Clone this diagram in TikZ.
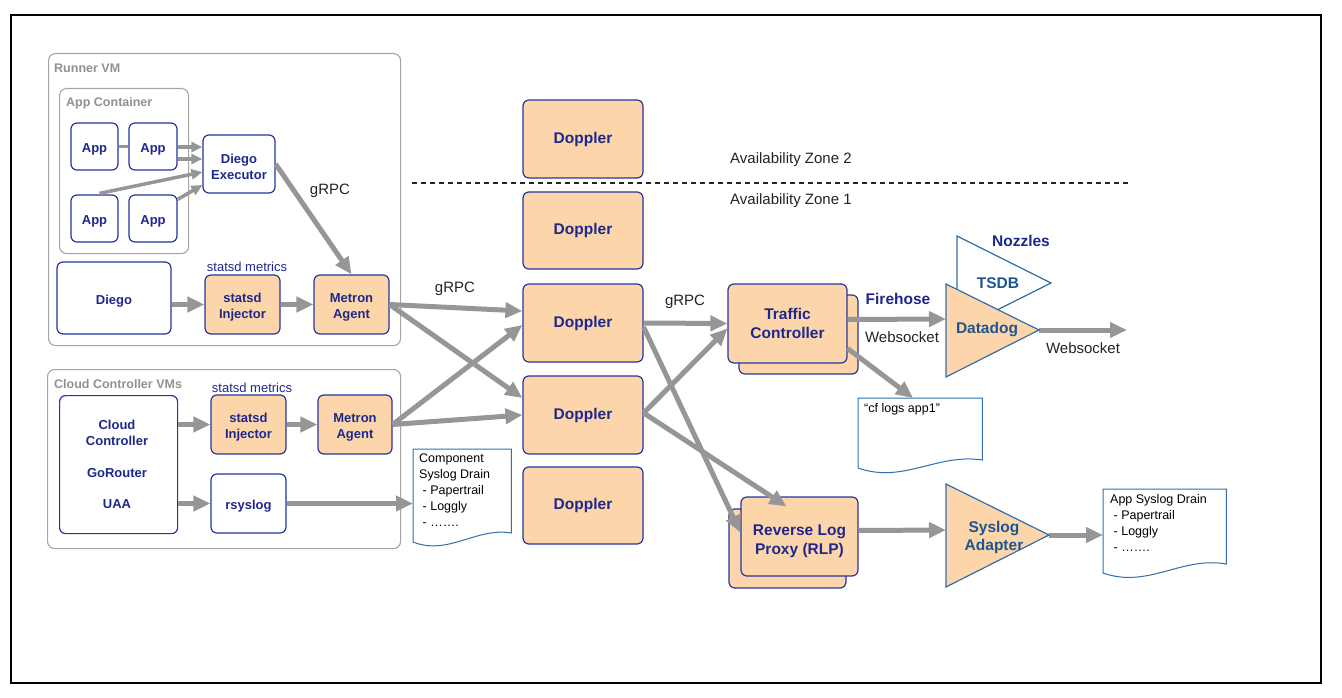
\documentclass[tikz,border=0pt]{standalone}
\usepackage{fontspec}
\setmainfont{Liberation Sans}
\usetikzlibrary{arrows.meta,calc}
\definecolor{peach}{RGB}{252,214,170}
\definecolor{navy}{RGB}{38,52,158}
\definecolor{navytext}{RGB}{30,40,140}
\definecolor{arrgray}{RGB}{150,150,150}
\definecolor{grpgray}{RGB}{165,165,165}
\definecolor{lblgray}{RGB}{145,145,145}
\definecolor{docblue}{RGB}{50,110,170}
\definecolor{tritxt}{RGB}{30,85,145}
\definecolor{txtdark}{RGB}{35,35,35}
\newcommand\mystrutA{\rule{0pt}{15.5pt}}
\newcommand\mystrutB{\rule{0pt}{19.5pt}}
\tikzset{
 grp/.style={draw=grpgray, line width=1.1pt, rounded corners=7pt, inner sep=0},
 grplabel/.style={anchor=west, text=lblgray, font=\fontsize{12.5}{14}\selectfont\bfseries, inner sep=0},
 sbox/.style={draw=navy, line width=1.2pt, rounded corners=6pt, text=navytext, font=\fontsize{13}{16}\selectfont\bfseries, align=center, inner sep=0},
 sboxw/.style={sbox, fill=white},
 sboxp/.style={sbox, fill=peach},
 bbox/.style={sboxp, font=\fontsize{15.5}{19}\selectfont\bfseries},
 garr/.style={draw=arrgray, line width=5pt, -{Triangle[length=17pt,width=15pt]}},
 sarr/.style={draw=arrgray, line width=3.5pt, -{Triangle[length=11pt,width=10pt]}},
 lbl/.style={text=txtdark, font=\fontsize{15}{18}\selectfont, inner sep=0},
 metr/.style={text=navytext, font=\fontsize{13}{15}\selectfont, inner sep=0},
 docline/.style={draw=docblue, line width=1pt, fill=white},
 doctext/.style={anchor=north west, align=left, font=\fontsize{12.5}{16}\selectfont, text=black, inner sep=0},
 tri/.style={draw=docblue, line width=1.2pt, line join=miter},
 tritext/.style={text=tritxt, font=\fontsize{15.5}{18}\selectfont\bfseries, align=center, inner sep=0},
 navylbl/.style={text=navytext, font=\fontsize{15.5}{18}\selectfont\bfseries, inner sep=0},
}
\begin{document}
\begin{tikzpicture}[x=1pt,y=-1pt]
\useasboundingbox (0,0) rectangle (1342,698);
\draw[line width=2pt] (11,15) rectangle (1321,683);

% groups
\node[grp, minimum width=352, minimum height=292, anchor=north west] (runner) at (48,53) {};
\node[grplabel] (runnerlbl) at (54,68) {Runner VM};
\node[grp, minimum width=129, minimum height=165, anchor=north west] (appc) at (59,88) {};
\node[grplabel] (appclbl) at (66,103) {App Container};
\node[grp, minimum width=353, minimum height=179, anchor=north west] (ccvm) at (47,369) {};
\node[grplabel] (ccvmlbl) at (54,384) {Cloud Controller VMs};

% runner boxes
\node[sboxw, minimum width=47, minimum height=47] (app1) at (94.5,146.5) {\mystrutA App};
\node[sboxw, minimum width=48, minimum height=47] (app2) at (153,146.5) {\mystrutA App};
\node[sboxw, minimum width=47, minimum height=47] (app3) at (94.5,218.5) {\mystrutA App};
\node[sboxw, minimum width=48, minimum height=47] (app4) at (153,218.5) {\mystrutA App};
\node[sboxw, minimum width=72, minimum height=58] (exec) at (239,164) {\mystrutA Diego\\Executor};
\node[sboxw, minimum width=114, minimum height=72] (diego) at (114,298) {\mystrutA Diego};
\node[sboxp, minimum width=75, minimum height=59] (injr) at (242.5,304.5) {\mystrutA statsd\\Injector};
\node[sboxp, minimum width=75, minimum height=59] (metr) at (351.5,304.5) {\mystrutA Metron\\Agent};
\node[metr] (smr) at (247,267) {statsd metrics};

% cloud controller boxes
\node[sboxw, minimum width=118, minimum height=138, anchor=north west] (cc) at (59,395) {};
\node[sbox, draw=none] (cct1) at (117,433) {Cloud\\Controller};
\node[sbox, draw=none] (cct2) at (117,473) {GoRouter};
\node[sbox, draw=none] (cct3) at (117,504) {UAA};
\node[sboxp, minimum width=75, minimum height=59] (injc) at (248.5,424.5) {\mystrutA statsd\\Injector};
\node[sboxp, minimum width=74, minimum height=59] (metc) at (355,424.5) {\mystrutA Metron\\Agent};
\node[sboxw, minimum width=75, minimum height=59] (rsys) at (248.5,503.5) {\mystrutA rsyslog};
\node[metr] (smc) at (252,388) {statsd metrics};

% dopplers
\node[bbox, minimum width=120, minimum height=78] (d1) at (583,139) {Doppler};
\node[bbox, minimum width=120, minimum height=77] (d2) at (583,230.5) {Doppler};
\node[bbox, minimum width=120, minimum height=78] (d3) at (583,323) {Doppler};
\node[bbox, minimum width=120, minimum height=78] (d4) at (583,415) {Doppler};
\node[bbox, minimum width=120, minimum height=77] (d5) at (583,505.5) {Doppler};

% zones
\draw[draw=txtdark, line width=1.2pt, dash pattern=on 5pt off 4pt] (412,183) -- (1130,183);
\node[lbl, anchor=west] (az2) at (730,160) {Availability Zone 2};
\node[lbl, anchor=west] (az1) at (730,201) {Availability Zone 1};

% traffic controller and RLP
\node[bbox, minimum width=119, minimum height=79] (tcback) at (798.5,334.5) {};
\node[bbox, minimum width=119, minimum height=79] (tc) at (787.5,323.5) {Traffic\\Controller};
\node[bbox, minimum width=117, minimum height=79] (rlpback) at (787.5,548.5) {};
\node[bbox, minimum width=117, minimum height=79] (rlp) at (799.5,536.5) {\mystrutB Reverse Log\\Proxy (RLP)};

% documents
\node[minimum width=98, minimum height=84, inner sep=0, anchor=north west] (comp) at (413,449) {};
\draw[docline] (comp.north west) -- (comp.north east) -- ($(comp.north east)+(0,84)$) .. controls +(-35,-6) and +(35,14) .. ($(comp.north west)+(0,93)$) -- cycle;
\node[doctext] (comptext) at ($(comp.north west)+(6,5)$) {Component\\Syslog Drain\\\ - Papertrail\\\ - Loggly\\\ - …….};

\node[minimum width=124, minimum height=62, inner sep=0, anchor=north west] (cf) at (858,398) {};
\draw[docline] (cf.north west) -- (cf.north east) -- ($(cf.north east)+(0,62)$) .. controls +(-45,-7) and +(45,16) .. ($(cf.north west)+(0,70)$) -- cycle;
\node[doctext] (cftext) at ($(cf.north west)+(6,5)$) {“cf logs app1”};

\node[minimum width=123, minimum height=75, inner sep=0, anchor=north west] (asd) at (1103,489) {};
\draw[docline] (asd.north west) -- (asd.north east) -- ($(asd.north east)+(0,75)$) .. controls +(-45,-8) and +(45,16) .. ($(asd.north west)+(0,84)$) -- cycle;
\node[doctext] (asdtext) at ($(asd.north west)+(7,5)$) {App Syslog Drain\\\ - Papertrail\\\ - Loggly\\\ - …….};

% triangle coordinates
\coordinate (ddT) at (946,284);
\coordinate (ddB) at (946,377);
\coordinate (ddA) at (1039,330);
\coordinate (ddIn) at (946,319);
\coordinate (outEnd) at (1127,330);
\coordinate (tsT) at (957,236);
\coordinate (tsB) at (957,330);
\coordinate (tsA) at (1051,283);
\coordinate (syT) at (946,484);
\coordinate (syB) at (946,587);
\coordinate (syA) at (1049,535);
\coordinate (syIn) at (946,530);

% arrows: runner
\draw[draw=arrgray, line width=3.5pt] (app1.east) -- (app2.west);
\draw[sarr] ($(app2.east)+(0,0.5)$) -- ($(exec.west)+(0,-17)$);
\draw[sarr] ($(app2.east)+(0,12.5)$) -- ($(exec.west)+(0,-5)$);
\draw[sarr] ($(app3.north)+(5,-1)$) -- ($(exec.west)+(0,8)$);
\draw[sarr] ($(app4.north east)+(0,5)$) -- ($(exec.west)+(0,21)$);
\draw[garr] (exec.east) -- (metr.north);
\node[lbl] (grpc1) at (330,191) {gRPC};
\draw[garr] (diego.east |- injr.west) -- (injr.west);
\draw[garr] (injr.east) -- (metr.west);

% arrows: cloud controller
\draw[garr] (cc.east |- injc.west) -- (injc.west);
\draw[garr] (cc.east |- rsys.west) -- (rsys.west);
\draw[garr] (injc.east) -- (metc.west);
\draw[garr] (rsys.east) -- (comp.west |- rsys.east);

% metron to doppler
\draw[garr] (metr.east) -- ($(d3.west)+(0,-12)$);
\draw[garr] (metr.east) -- ($(d4.west)+(0,-17)$);
\draw[garr] (metc.east) -- ($(d3.west)+(0,2)$);
\draw[garr] (metc.east) -- (d4.west);
\node[lbl] (grpc2) at (455,289) {gRPC};

% doppler to TC / RLP
\draw[garr] (d3.east) -- (tc.west);
\draw[garr] ($(d4.east)+(0,-2)$) -- ($(tc.west)+(0,5)$);
\draw[garr] ($(d3.east)+(0,4)$) -- ($(rlp.west)+(0,-4)$);
\draw[garr] ($(d4.east)+(0,-2)$) -- ($(rlp.north)+(-13,10)$);
\node[lbl] (grpc3) at (685,302) {gRPC};

% TC outputs
\draw[garr] ($(tc.east)+(0,-4)$) -- (ddIn);
\draw[garr] ($(tc.east)+(0,25)$) -- ($(cf.north west)+(55,0)$);
\node[navylbl] (firehose) at (898,299) {Firehose};
\node[lbl] (ws1) at (902,337) {Websocket};
\draw[garr] (ddA) -- (outEnd);
\node[lbl] (ws2) at (1083,348) {Websocket};

% RLP outputs
\draw[garr] ($(rlp.east)+(0,-6)$) -- (syIn);
\draw[garr] (syA) -- (asd.west |- syA);

% triangles
\draw[tri, fill=white] (tsT) -- (tsA) -- (tsB) -- cycle;
\draw[tri, fill=peach] (ddT) -- (ddA) -- (ddB) -- cycle;
\draw[tri, fill=peach] (syT) -- (syA) -- (syB) -- cycle;
\node[tritext] (tsdb) at (998,283) {TSDB};
\node[tritext] (dd) at (987,330) {Datadog};
\node[tritext] (sy) at (994,537) {Syslog\\Adapter};
\node[navylbl] (nozzles) at (1021,241) {Nozzles};
\end{tikzpicture}
\end{document}
